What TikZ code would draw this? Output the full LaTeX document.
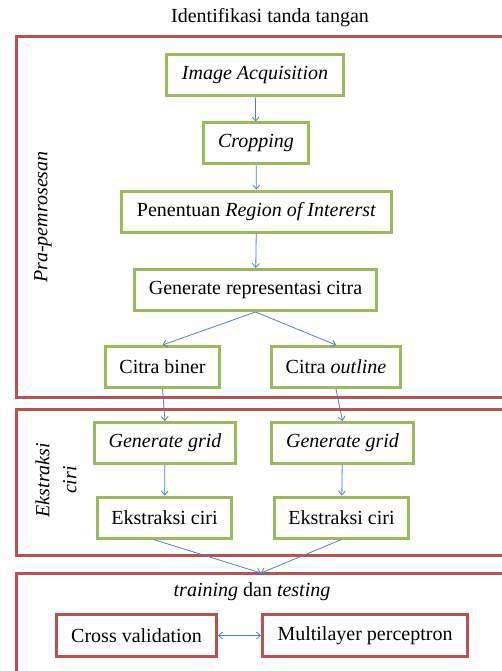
\documentclass[tikz,border=0pt]{standalone}
\usepackage{fontspec}
\setmainfont{Liberation Serif}
\usepackage{tikz}
\usetikzlibrary{arrows.meta}
\definecolor{boxred}{HTML}{C0504D}
\definecolor{boxgreen}{HTML}{9BBB59}
\definecolor{flowblue}{HTML}{4F81BD}

\begin{document}
\begin{tikzpicture}[x=1pt, y=-1pt,
    every node/.style={font=\fontsize{20}{27}\selectfont},
    stage/.style={draw=boxgreen, line width=3pt, minimum height=41pt, inner sep=0pt},
    model/.style={draw=boxred, line width=3pt, minimum height=42pt, inner sep=0pt},
    panel/.style={draw=boxred, line width=3pt},
    flow/.style={draw=flowblue, line width=0.8pt, -{Straight Barb[length=4pt,width=7pt]}}]
      \clip (0,0) rectangle (502,671);
      % panels
      \draw[panel] (16.5,36.5) rectangle (530,397);
      \draw[panel] (16.5,409) rectangle (530,555);
      \draw[panel] (16.5,573.5) rectangle (530,700);
      \node (title) at (270,18) {Identifikasi tanda tangan};
      \node[rotate=90] (pre) at (43,217) {\textit{Pra-pemrosesan}};
      \node[rotate=90, align=center] (ext) at (56,480) {\textit{Ekstraksi}\\\textit{ciri}};
      \node (tt) at (252,592) {\textit{training} dan \textit{testing}};
      % flow
      \node[stage, minimum width=177pt] (ia) at (255,75) {\textit{Image Acquisition}};
      \node[stage, minimum width=105pt] (crop) at (256,143.5) {\textit{Cropping}};
      \node[stage, minimum width=270pt] (roi) at (256.5,211.5) {Penentuan \textit{Region of Intererst}};
      \node[stage, minimum width=242pt] (genrep) at (255.5,290) {Generate representasi citra};
      \node[stage, minimum width=114pt] (biner) at (162.5,367) {Citra biner};
      \node[stage, minimum width=129pt] (outline) at (336,367) {Citra \textit{outline}};
      \node[stage, minimum width=141pt] (gridA) at (165,443) {\textit{Generate grid}};
      \node[stage, minimum width=142pt] (gridB) at (342.5,443) {\textit{Generate grid}};
      \node[stage, minimum width=134pt] (ciriA) at (164.5,517.5) {Ekstraksi ciri};
      \node[stage, minimum width=134pt] (ciriB) at (341.5,517.5) {Ekstraksi ciri};
      \node[model, minimum width=160pt] (cv) at (136.5,635.5) {Cross validation};
      \node[model, minimum width=205pt] (mlp) at (365,635.5) {Multilayer perceptron};
      \coordinate (merge) at (261,573);
      \draw[flow] (ia) -- (crop);
      \draw[flow] (crop) -- (roi);
      \draw[flow] (roi) -- (genrep);
      \draw[flow] (genrep.south) -- (biner.north);
      \draw[flow] (genrep.south) -- (outline.north);
      \draw[flow] (biner.south) -- (gridA.north);
      \draw[flow] (outline.south) -- (gridB.north);
      \draw[flow] (gridA) -- (ciriA);
      \draw[flow] (gridB) -- (ciriB);
      \draw[flow] ([xshift=-11pt]ciriA.south) -- (merge);
      \draw[flow] (ciriB.south) -- (merge);
      \draw[flow, {Straight Barb[length=4pt,width=7pt]}-{Straight Barb[length=4pt,width=7pt]}] (cv) -- (mlp);
\end{tikzpicture}
\end{document}
